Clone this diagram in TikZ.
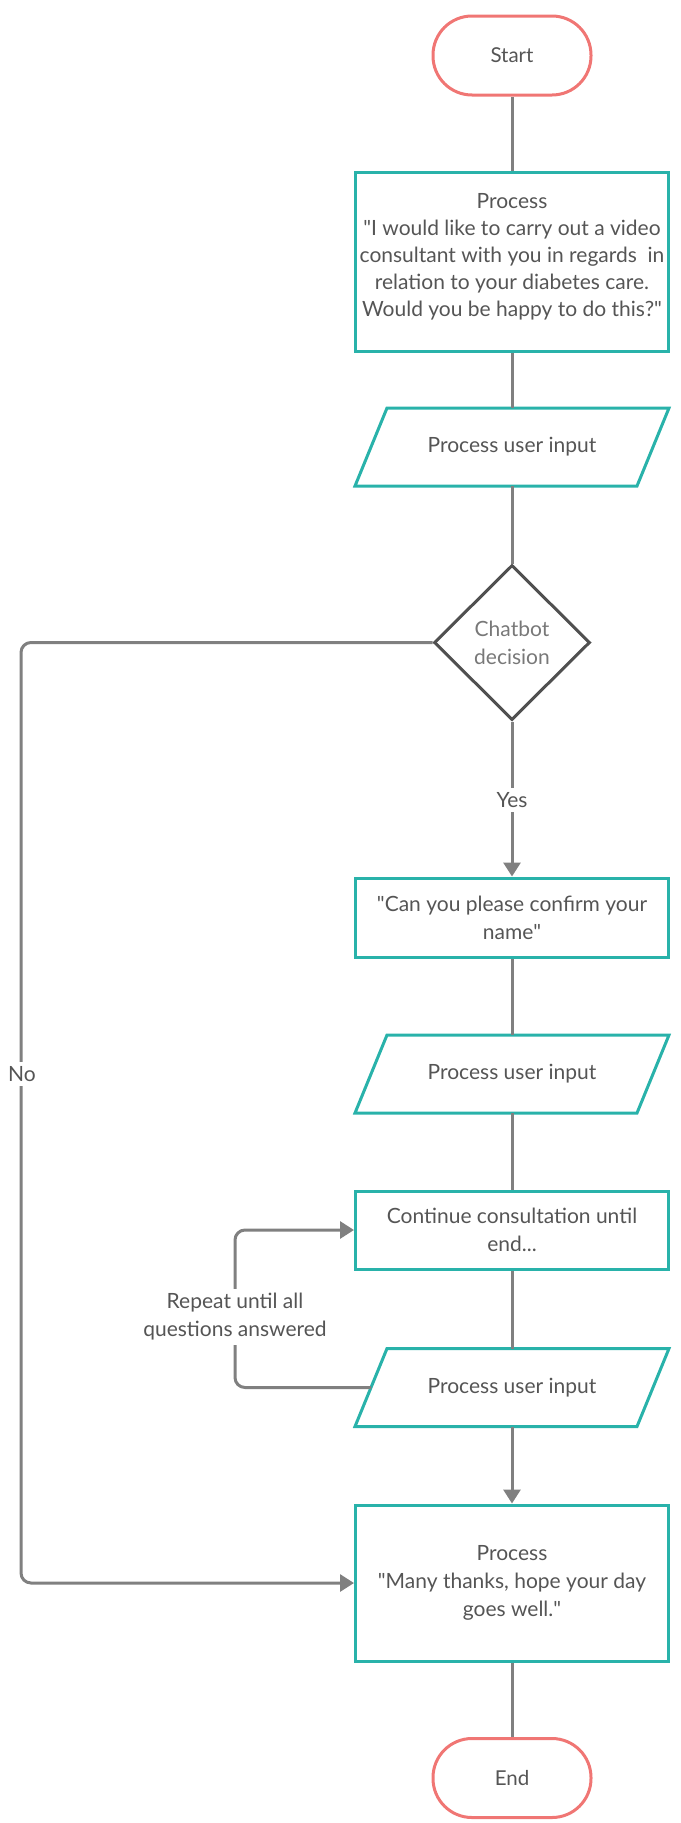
\documentclass[tikz,border=0pt]{standalone}
\usepackage{fontspec}
\setmainfont{Lato}
\usetikzlibrary{shapes.geometric,arrows.meta}
\definecolor{tealc}{RGB}{41,178,170}
\definecolor{salmon}{RGB}{240,118,116}
\definecolor{connc}{RGB}{128,128,128}
\definecolor{decc}{RGB}{80,80,80}
\definecolor{txt}{RGB}{85,85,85}
\definecolor{txtlight}{RGB}{120,120,120}
\newcommand{\qq}{\textquotedbl}
\begin{document}
\begin{tikzpicture}[x=1pt,y=-1pt,
  every node/.style={text=txt, font=\fontsize{21}{28}\selectfont, align=center, inner sep=0pt},
  term/.style={draw=salmon, line width=3pt, rectangle, rounded corners=39pt, minimum width=158pt, minimum height=79pt, font=\fontsize{20.5}{28}\selectfont},
  procbox/.style={draw=tealc, line width=3pt, rectangle, minimum width=313pt},
  para/.style={rectangle, minimum width=282pt, minimum height=78pt, outer sep=0pt},
  paraline/.style={draw=tealc, line width=3pt, line join=miter},
  decbox/.style={draw=decc, line width=3pt, diamond, minimum width=156pt, minimum height=155pt, text=txtlight},
  link/.style={draw=connc, line width=3pt},
  arr/.style={link, -{Triangle[length=14pt,width=17pt]}},
  lbl/.style={fill=white, inner sep=4pt},
]
\useasboundingbox (0,0) rectangle (680,1823);

% nodes
\node[term] (start) at (512,55.5) {Start};
\node[procbox, minimum height=179pt, font=\fontsize{21}{27}\selectfont] (proc1) at (512,261.5)
  {Process\\\qq I would like to carry out a video\\consultant with you in regards\ \ in\\relation to your diabetes care.\\Would you be happy to do this?\qq\rule[-14pt]{0pt}{14pt}};
\node[para] (p1) at (512,447) {Process user input};
\node[decbox] (dec) at (512,642.5) {Chatbot\\decision};
\node[procbox, minimum height=79pt] (conf) at (512,917.5) {\qq Can you please confirm your\\name\qq};
\node[para] (p2) at (512,1074) {Process user input};
\node[procbox, minimum height=78pt] (cont) at (512,1230) {Continue consultation until\\end...};
\node[para] (p3) at (512,1387.5) {Process user input};
\node[procbox, minimum height=156pt] (final) at (512,1583) {Process\\\qq Many thanks, hope your day\\goes well.\qq};
\node[term] (end) at (512,1778) {End};

% parallelogram outlines
\foreach \n in {p1,p2,p3}{
  \draw[paraline] ([xshift=16pt]\n.north west) -- ([xshift=16pt]\n.north east)
    -- ([xshift=-16pt]\n.south east) -- ([xshift=-16pt]\n.south west) -- cycle;
}

% connectors
\draw[link] (start) -- (proc1);
\draw[link] (proc1) -- (p1);
\draw[link] (p1) -- (dec);
\draw[arr] (dec.south) -- (conf.north);
\draw[link] (conf) -- (p2);
\draw[link] (p2) -- (cont);
\draw[link] (cont) -- (p3);
\draw[arr] (p3.south) -- (final.north);
\draw[link] (final) -- (end);

\coordinate (nc) at (21,642.5);
\draw[arr, rounded corners=10pt] (dec.west) -- (nc) |- (final.west);
\coordinate (lc) at (235,1387.5);
\draw[arr, rounded corners=10pt] (p3.west) -- (lc) |- (cont.west);

% labels
\node[lbl] (yes) at (512,800) {Yes};
\node[lbl] (no) at (22,1074) {No};
\node[lbl] (rep) at (235,1317) {Repeat until all\\questions answered};
\end{tikzpicture}
\end{document}
